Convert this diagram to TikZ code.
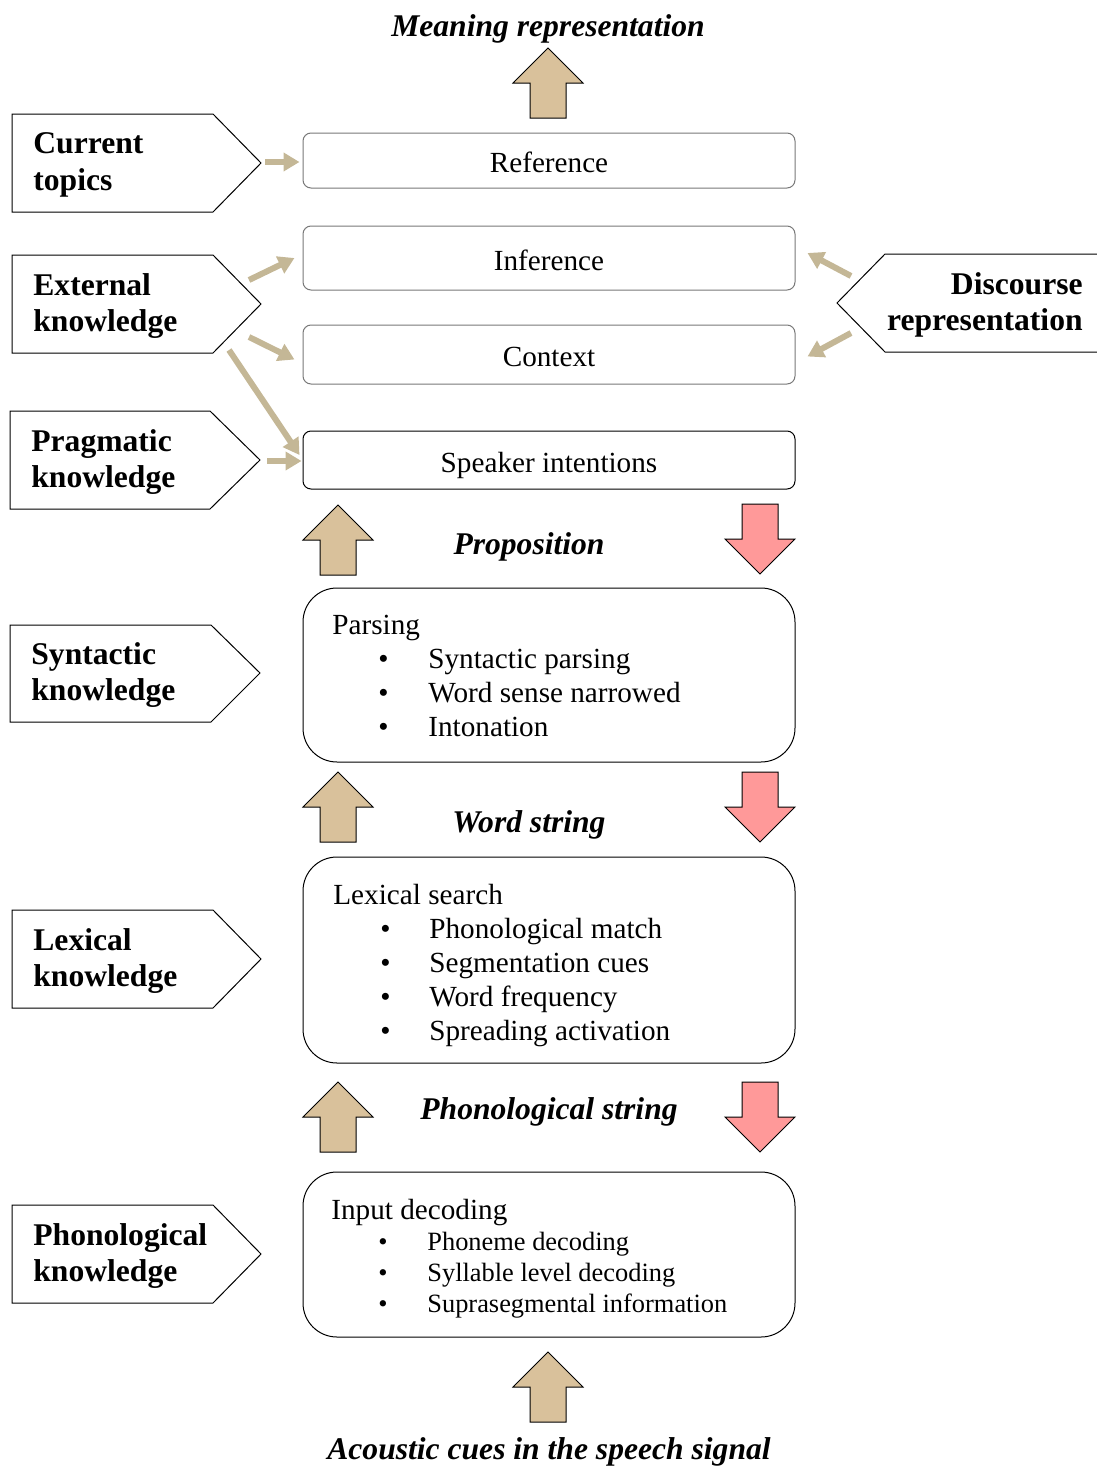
\documentclass[tikz,border=0pt]{standalone}
\usepackage{fontspec}
\setmainfont{Liberation Serif}
\usetikzlibrary{arrows.meta,calc}
\definecolor{tanfill}{RGB}{217,193,155}
\definecolor{redfill}{RGB}{255,153,153}
\definecolor{linkcol}{RGB}{196,183,150}
\definecolor{boxgray}{RGB}{120,120,120}
\begin{document}
\begin{tikzpicture}[x=0.5pt,y=-0.5pt,
  bodyfont/.style={font=\fontsize{14.6}{17}\selectfont},
  smallfont/.style={font=\fontsize{13.2}{15.5}\selectfont},
  lbl/.style={font=\fontsize{15.8}{18.3}\selectfont\bfseries, inner sep=0pt},
  ttl/.style={font=\fontsize{15.8}{18.3}\selectfont\bfseries\itshape, inner sep=0pt},
  penta/.style={draw=black, line width=0.5pt, fill=white},
  topbox/.style={draw=boxgray, line width=0.5pt, rounded corners=4pt, minimum width=246pt, inner sep=0pt, bodyfont, text height=12pt, text depth=0pt},
  bigbox/.style={draw=black, line width=0.5pt, rounded corners=17pt, minimum width=246pt, inner sep=0pt},
  item/.style={anchor=base west, inner sep=0pt},
  link/.style={draw=linkcol, line width=3pt, -{Triangle[length=8pt,width=9pt]}},
  uparr/.pic={\draw[fill=tanfill, line width=0.5pt] (0,0) -- ++(35,35) -- ++(-17,0) -- ++(0,35) -- ++(-36,0) -- ++(0,-35) -- ++(-17,0) -- cycle;},
  dnarr/.pic={\draw[fill=redfill, line width=0.5pt] (-18,0) -- ++(36,0) -- ++(0,35) -- ++(17,0) -- ++(-35,35) -- ++(-35,-35) -- ++(17,0) -- cycle;}
]
\useasboundingbox (0,0) rectangle (1097,1467);

% titles
\node[ttl, anchor=base] (meaning) at (548,36) {Meaning representation};
\node[ttl, anchor=base] (acoustic) at (549,1459) {Acoustic cues in the speech signal};
\node[ttl] (prop) at (529,547) {Proposition};
\node[ttl] (wstr) at (529,825) {Word string};
\node[ttl] (pstr) at (549,1112) {Phonological string};

% block arrows
\pic at (548,48) {uparr};
\pic at (338,505) {uparr};
\pic at (338,772) {uparr};
\pic at (338,1082) {uparr};
\pic at (548,1352) {uparr};
\pic at (760,504) {dnarr};
\pic at (760,772) {dnarr};
\pic at (760,1082) {dnarr};

% top boxes
\node[topbox, minimum height=27.5pt] (ref) at (549,160.5) {Reference};
\node[topbox, minimum height=32pt] (inf) at (549,258) {Inference};
\node[topbox, minimum height=29.5pt] (ctx) at (549,354.5) {Context};
\node[topbox, draw=black, minimum height=29pt] (spk) at (549,460) {Speaker intentions};

% big boxes
\node[bigbox, minimum height=87pt] (pars) at (549,675) {};
\node[bodyfont, item] (parsT) at (332,634) {Parsing};
\foreach \y/\t [count=\i] in {668/Syntactic parsing, 702/Word sense narrowed, 736/Intonation}{
  \node[bodyfont, item] (parsB\i) at (378,\y) {•};
  \node[bodyfont, item] (parsI\i) at (428,\y) {\t};
}
\node[bigbox, minimum height=103pt] (lex) at (549,960) {};
\node[bodyfont, item] (lexT) at (333,904) {Lexical search};
\foreach \y/\t [count=\i] in {938/Phonological match, 972/Segmentation cues, 1006/Word frequency, 1040/Spreading activation}{
  \node[bodyfont, item] (lexB\i) at (380,\y) {•};
  \node[bodyfont, item] (lexI\i) at (429,\y) {\t};
}
\node[bigbox, minimum height=82.5pt] (inp) at (549,1254.5) {};
\node[bodyfont, item] (inpT) at (331,1219) {Input decoding};
\foreach \y/\t [count=\i] in {1250/Phoneme decoding, 1281/Syllable level decoding, 1312/Suprasegmental information}{
  \node[smallfont, item] (inpB\i) at (378,\y) {•};
  \node[smallfont, item] (inpI\i) at (427,\y) {\t};
}

% pentagons
\draw[penta] (12,114) -- (213,114) -- (261,163) -- (213,212) -- (12,212) -- cycle;
\node[lbl, align=left, anchor=west] (cur) at (33,165) {Current\\topics};
\draw[penta] (12,255) -- (213,255) -- (261,304) -- (213,353) -- (12,353) -- cycle;
\node[lbl, align=left, anchor=west] (ext) at (33,306) {External\\knowledge};
\draw[penta] (10,411) -- (210,411) -- (260,460) -- (210,509) -- (10,509) -- cycle;
\node[lbl, align=left, anchor=west] (prag) at (31,462) {Pragmatic\\knowledge};
\draw[penta] (1099,254) -- (885,254) -- (837,303) -- (885,352) -- (1099,352);
\node[lbl, align=right, anchor=east] (disc) at (1083,305) {Discourse\\representation};
\draw[penta] (10,625) -- (211,625) -- (260,673) -- (211,722) -- (10,722) -- cycle;
\node[lbl, align=left, anchor=west] (syn) at (31,675) {Syntactic\\knowledge};
\draw[penta] (12,910) -- (213,910) -- (261,959) -- (213,1008) -- (12,1008) -- cycle;
\node[lbl, align=left, anchor=west] (lexk) at (33,961) {Lexical\\knowledge};
\draw[penta] (12,1205) -- (213,1205) -- (261,1254) -- (213,1303) -- (12,1303) -- cycle;
\node[lbl, align=left, anchor=west] (phon) at (33,1256) {Phonological\\knowledge};

% connector start points
\coordinate (curS) at (265,162);
\coordinate (ext1) at (249,280);
\coordinate (ext2) at (249,337);
\coordinate (ext3) at (229,350);
\coordinate (pragS) at (267,461);
\coordinate (disc1) at (851,276);
\coordinate (disc2) at (851,333);

% connectors
\draw[link] (curS) -- ($(ref.west)+(-3,1.5)$);
\draw[link] (ext1) -- ($(inf.west)+(-8,0)$);
\draw[link] (ext2) -- ($(ctx.west)+(-8,5)$);
\draw[link] (ext3) -- ($(spk.west)+(-3,-5)$);
\draw[link] (pragS) -- ($(spk.west)+(-1,1)$);
\draw[link] (disc1) -- ($(inf.east)+(12,-5)$);
\draw[link] (disc2) -- ($(ctx.east)+(12,2)$);
\end{tikzpicture}
\end{document}
